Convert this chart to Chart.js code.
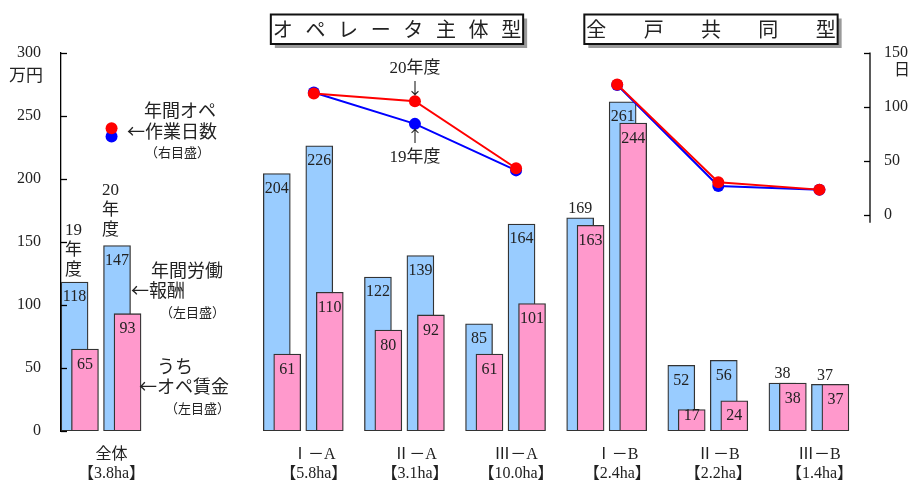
<!DOCTYPE html>
<html>
<head>
<meta charset="utf-8">
<script src="https://cdn.jsdelivr.net/npm/chart.js@4/dist/chart.umd.min.js"></script>
<style>
  html, body { margin: 0; padding: 0; background: #fff; }
  #wrap { width: 913px; height: 484px; position: relative; }
  canvas { display: block; }
</style>
</head>
<body>
<div id="wrap"><canvas id="chart" width="913" height="484"></canvas></div>
<script>
// ---- data ----
const categories = ['全体', '', 'Ⅰ－A', 'Ⅱ－A', 'Ⅲ－A', 'Ⅰ－B', 'Ⅱ－B', 'Ⅲ－B'];
const areas      = ['【3.8ha】', '', '【5.8ha】', '【3.1ha】', '【10.0ha】', '【2.4ha】', '【2.2ha】', '【1.4ha】'];
const groupType  = ['all', null, 'A', 'A', 'A', 'B', 'B', 'B'];

// 年間労働報酬 (万円)
const pay19   = [118, null, 204, 122,  85, 169, 52, 38];
const pay20   = [147, null, 226, 139, 164, 261, 56, 37];
// うちオペ賃金 (万円)
const opPay19 = [ 65, null,  61,  80,  61, 163, 17, 38];
const opPay20 = [ 93, null, 110,  92, 101, 244, 24, 37];
// 年間オペ作業日数 (日)
const days19  = [null, null, 113, 84, 41, 120,   26.5, 23];
const days20  = [null, null, 112, 105, 43, 120.5, 30,  23.2];

const yenTicks = [0, 50, 100, 150, 200, 250, 300];
const dayTicks = [0, 50, 100, 150];

// ---- look ----
const SERIF = '"Liberation Serif", "Noto Sans CJK JP", serif';
const JP = '"Noto Sans CJK JP", sans-serif';
const INK = '#222';
const BLUE_BAR = '#99CCFF';
const PINK_BAR = '#FF99CC';
const slot = { b19: -0.366, p19: -0.263, b20: 0.054, p20: 0.158 };

function barPoints(values, shift) {
  return values.map((v, i) => v == null ? null : { x: i + shift, y: v, cat: i }).filter(Boolean);
}
function linePoints(values) {
  const pts = [];
  let prev = null;
  values.forEach((v, i) => {
    if (v == null) return;
    if (prev !== null && groupType[prev] !== groupType[i]) pts.push({ x: i - 0.5, y: null });
    pts.push({ x: i, y: v });
    prev = i;
  });
  return pts;
}

function barSet(label, values, shift, color, kind, order) {
  return {
    type: 'bar', label, data: barPoints(values, shift), kind,
    backgroundColor: color, borderColor: '#333', borderWidth: 1.3, borderSkipped: false,
    barThickness: 27, grouped: false, yAxisID: 'y', order
  };
}
function lineSet(label, values, color, order) {
  return {
    type: 'line', label, data: linePoints(values), yAxisID: 'y1',
    borderColor: color, backgroundColor: color, borderWidth: 2,
    pointRadius: 6, pointBorderWidth: 0, pointBackgroundColor: color,
    spanGaps: false, tension: 0, order
  };
}

function txt(ctx, s, x, y, size, align, family) {
  ctx.font = size + 'px ' + (family || SERIF);
  ctx.textAlign = align || 'left';
  ctx.textBaseline = 'middle';
  ctx.fillStyle = INK;
  ctx.fillText(s, x, y);
}

// value labels on the bars
const barLabels = {
  id: 'barLabels',
  afterDatasetsDraw(chart) {
    const ctx = chart.ctx;
    ctx.save();
    chart.data.datasets.forEach((ds, d) => {
      if (ds.type !== 'bar') return;
      const meta = chart.getDatasetMeta(d);
      meta.data.forEach((el, j) => {
        const pt = ds.data[j];
        let y;
        if (ds.kind === 'pay') {
          const other = (ds.label === '19' ? opPay19 : opPay20)[pt.cat];
          y = (pt.y - other < 10) ? el.y - 9 : el.y + 15;
        } else {
          y = Math.min(el.y + 15.5, el.base - 15);
        }
        txt(ctx, String(pt.y), el.x, y, 16, 'center');
      });
    });
    ctx.restore();
  }
};

// axis tick marks, right axis line, units and notes
const notes = {
  id: 'notes',
  afterDraw(chart) {
    const ctx = chart.ctx;
    const xs = chart.scales.x, yl = chart.scales.y, yr = chart.scales.y1;
    const X = v => xs.getPixelForValue(v);
    ctx.save();
    ctx.strokeStyle = '#000';
    ctx.lineWidth = 1.3;
    // left ticks point inward
    yenTicks.forEach(v => {
      const p = Math.round(yl.getPixelForValue(v)) + 0.5;
      ctx.beginPath(); ctx.moveTo(yl.right, p); ctx.lineTo(yl.right + 6, p); ctx.stroke();
    });
    // right axis segment with inward ticks
    const rx = yr.left;
    ctx.beginPath();
    ctx.moveTo(rx, yr.getPixelForValue(150));
    ctx.lineTo(rx, yr.getPixelForValue(0) + 8);
    ctx.stroke();
    dayTicks.forEach(v => {
      const p = Math.round(yr.getPixelForValue(v)) + 0.5;
      ctx.beginPath(); ctx.moveTo(rx, p); ctx.lineTo(rx - 6, p); ctx.stroke();
    });

    // units
    txt(ctx, '万円', 26, yl.getPixelForValue(300) + 22, 17, 'center', JP);
    txt(ctx, '日', rx + 32, yr.getPixelForValue(150) + 16, 16, 'center', JP);

    // group title boxes
    const boxes = [
      { from: 1.575, to: 4.07, chars: 'オペレータ主体型' },
      { from: 4.675, to: 7.18, chars: '全戸共同型' }
    ];
    const top = chart.chartArea.top - 38, h = 29.5;
    boxes.forEach(b => {
      const l = X(b.from), r = X(b.to);
      ctx.fillStyle = '#9a9a9a';
      ctx.fillRect(l + 4, top + 4, r - l, h);
      ctx.fillStyle = '#fff';
      ctx.fillRect(l, top, r - l, h);
      ctx.lineWidth = 2;
      ctx.strokeStyle = '#111';
      ctx.strokeRect(l, top, r - l, h);
      const chars = Array.from(b.chars);
      const a = l + 12, z = r - 12;
      chars.forEach((c, k) => {
        txt(ctx, c, a + (z - a) * k / (chars.length - 1), top + h / 2, 20, 'center', JP);
      });
    });

    // legend for the day lines
    const lx = X(0);
    [['#0000FF', 233.5], ['#FF0000', 240]].forEach(([c, v]) => {
      ctx.fillStyle = c;
      ctx.beginPath(); ctx.arc(lx, yl.getPixelForValue(v), 6, 0, Math.PI * 2); ctx.fill();
    });
    txt(ctx, '年間オペ', 144, 110, 18, 'left', JP);
    txt(ctx, '←作業日数', 127, 131.5, 18, 'left', JP);
    txt(ctx, '（右目盛）', 145, 152, 13, 'left', JP);

    // year captions over the 全体 bars
    ['19', '年', '度'].forEach((s, k) => txt(ctx, s, 73.5, 230.5 + k * 20, 17, 'center'));
    ['20', '年', '度'].forEach((s, k) => txt(ctx, s, 110.5, 191 + k * 20, 17, 'center'));

    // bar legends
    txt(ctx, '年間労働', 151, 270, 18, 'left', JP);
    txt(ctx, '←報酬', 131, 290, 18, 'left', JP);
    txt(ctx, '（左目盛）', 160, 312, 13, 'left', JP);
    txt(ctx, 'うち', 157, 366.5, 18, 'left', JP);
    txt(ctx, '←オペ賃金', 139, 386, 18, 'left', JP);
    txt(ctx, '（左目盛）', 165, 408, 13, 'left', JP);

    // year pointers at Ⅱ－A
    const ax = X(3);
    txt(ctx, '20年度', ax, 69, 17, 'center');
    txt(ctx, '↓', ax, 88, 16, 'center', JP);
    txt(ctx, '↑', ax, 136, 16, 'center', JP);
    txt(ctx, '19年度', ax, 158, 17, 'center');
    ctx.restore();
  }
};

new Chart(document.getElementById('chart'), {
  type: 'bar',
  data: {
    datasets: [
      lineSet('20年度', days20, '#FF0000', 0),
      lineSet('19年度', days19, '#0000FF', 1),
      barSet('19', opPay19, slot.p19, PINK_BAR, 'op', 2),
      barSet('20', opPay20, slot.p20, PINK_BAR, 'op', 2),
      barSet('19', pay19, slot.b19, BLUE_BAR, 'pay', 3),
      barSet('20', pay20, slot.b20, BLUE_BAR, 'pay', 3)
    ]
  },
  options: {
    responsive: false,
    animation: false,
    devicePixelRatio: 1,
    layout: { padding: { top: 52.5, left: 0, right: 0, bottom: 0 } },
    plugins: { legend: { display: false }, tooltip: { enabled: false } },
    scales: {
      x: {
        type: 'linear', min: -0.5, max: 7.5, offset: false,
        grid: { display: false, offset: false, drawTicks: false },
        border: { display: false },
        afterBuildTicks: s => { s.ticks = categories.map((_, i) => ({ value: i })); },
        ticks: {
          autoSkip: false, maxRotation: 0, minRotation: 0, padding: 14, color: INK,
          font: { family: SERIF, size: 16, lineHeight: 1.2 },
          callback: v => {
            const i = Math.round(v);
            return categories[i] ? [categories[i], areas[i]] : '';
          }
        },
        afterFit: s => { s.height = 53; }
      },
      y: {
        type: 'linear', position: 'left', min: 0, max: 300,
        grid: { display: false, drawTicks: false },
        border: { display: true, color: '#000', width: 1.3 },
        afterBuildTicks: s => { s.ticks = yenTicks.map(v => ({ value: v })); },
        ticks: { padding: 20, color: INK, font: { family: SERIF, size: 16 } },
        afterFit: s => { s.width = 61; }
      },
      y1: {
        type: 'linear', position: 'right', min: -200, max: 150,
        grid: { display: false, drawTicks: false },
        border: { display: false },
        afterBuildTicks: s => { s.ticks = dayTicks.map(v => ({ value: v })); },
        ticks: { padding: 14, color: INK, font: { family: SERIF, size: 16 } },
        afterFit: s => { s.width = 43; }
      }
    }
  },
  plugins: [barLabels, notes]
});
</script>
</body>
</html>
